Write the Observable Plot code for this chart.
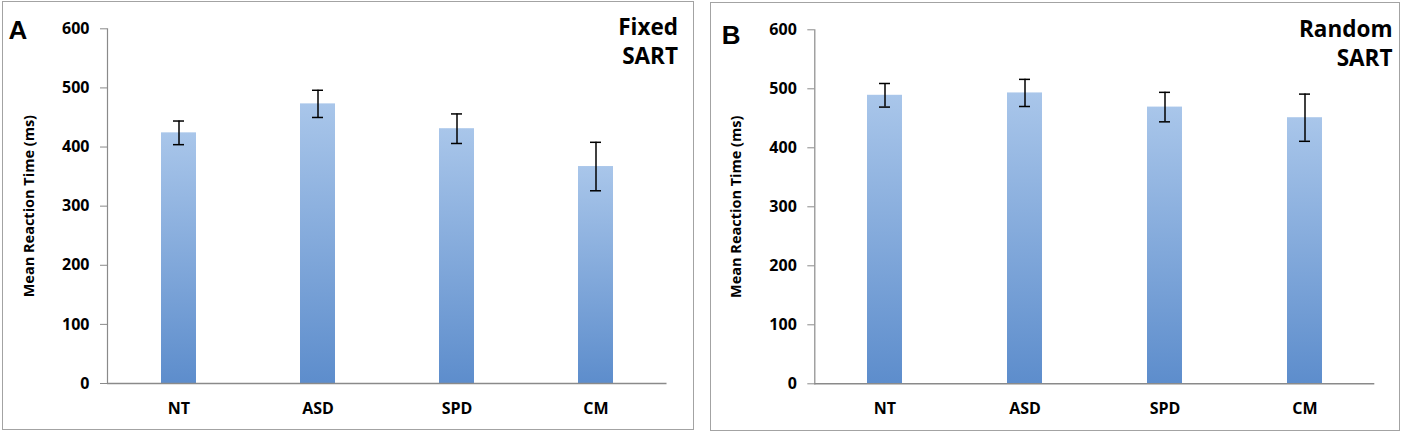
<!DOCTYPE html>
<html>
<head>
<meta charset="utf-8">
<script src="https://cdn.jsdelivr.net/npm/d3@7"></script>
<script src="https://cdn.jsdelivr.net/npm/@observablehq/plot@0.6"></script>
<style>
  html, body { margin: 0; padding: 0; background: #fff; }
  #wrap { position: relative; width: 1402px; height: 435px; overflow: hidden; }
  .panel { position: absolute; }
  .border { position: absolute; border: 1.5px solid #a3a3a3; box-sizing: border-box; }
  g[aria-label="y-axis tick"] path { stroke: #8a8a8a; }
</style>
</head>
<body>
<div id="wrap">
  <div class="border" style="left:2px;top:1px;width:692px;height:429px;"></div>
  <div class="border" style="left:710px;top:2px;width:690px;height:429px;"></div>
  <div class="panel" id="pA" style="left:0px;top:0px;"></div>
  <div class="panel" id="pB" style="left:707px;top:0px;"></div>
</div>
<script>
const categories = ["NT", "ASD", "SPD", "CM"];
const fixedMean = [424, 473, 431, 367];
const fixedErr = [20, 23, 25, 41];
const randomMean = [489, 493, 469, 451];
const randomErr = [20, 23, 25, 40];
const yTicks = [0, 100, 200, 300, 400, 500, 600];
const yLabel = "Mean Reaction Time (ms)";

const fontFam = "'Open Sans', sans-serif";

function panel({means, errs, letter, title, gradId, width, marginLeft, marginRight, marginTop, marginBottom, letterDx, letterDy, titleDx, titleDy}) {
  const data = categories.map((c, i) => ({cat: c, mean: means[i], lo: means[i] - errs[i], hi: means[i] + errs[i]}));
  const svg = Plot.plot({
    width, height: 435, marginLeft, marginRight, marginTop, marginBottom,
    style: {fontFamily: fontFam, background: "transparent", overflow: "visible", color: "#000"},
    x: {domain: categories, paddingInner: 0.75, paddingOuter: 0.375, axis: null},
    y: {domain: [0, 600], axis: null},
    marks: [
      Plot.axisY({ticks: yTicks, tickSize: 7, tickPadding: 11, fontSize: 16, fontWeight: "bold", label: null, tickFormat: d => String(d)}),
      Plot.frame({anchor: "left", stroke: "#8a8a8a", strokeWidth: 1.2}),
      Plot.barY(data, {x: "cat", y: "mean", fill: `url(#${gradId})`}),
      Plot.ruleY([0], {stroke: "#8a8a8a", strokeWidth: 1.5}),
      Plot.ruleX(data, {x: "cat", y1: "lo", y2: "hi", stroke: "#000", strokeWidth: 1.5}),
      Plot.tickY(data, {x: "cat", y: "lo", insetLeft: 12, insetRight: 12, stroke: "#000", strokeWidth: 1.5}),
      Plot.tickY(data, {x: "cat", y: "hi", insetLeft: 12, insetRight: 12, stroke: "#000", strokeWidth: 1.5}),
      Plot.axisX({tickSize: 0, tickPadding: 19, fontSize: 16, fontWeight: "bold", label: null}),
      Plot.text([yLabel], {text: d => d, frameAnchor: "left", textAnchor: "middle", lineAnchor: "middle", dx: -78, rotate: -90, fontSize: 14.5, fontWeight: "bold", fill: "#000"}),
      Plot.text([letter], {text: d => d, frameAnchor: "top-left", textAnchor: "start", lineAnchor: "top", dx: letterDx, dy: letterDy, fontSize: 26, fontWeight: "bold", fontFamily: "'Liberation Sans', Arial, sans-serif", fill: "#000"}),
      Plot.text([title], {text: d => d, frameAnchor: "top-right", textAnchor: "end", lineAnchor: "top", lineHeight: 1.3, dx: titleDx, dy: titleDy, fontSize: 22.5, fontWeight: "bold", fill: "#000"})
    ]
  });
  d3.select(svg).insert("defs", ":first-child").html(
    `<linearGradient id="${gradId}" x1="0" y1="0" x2="0" y2="1">
       <stop offset="0" stop-color="#a9c6ea"/>
       <stop offset="1" stop-color="#5d8dcc"/>
     </linearGradient>`);
  return svg;
}

document.getElementById("pA").appendChild(panel({
  means: fixedMean, errs: fixedErr, letter: "A", title: "Fixed\nSART", gradId: "gradA",
  width: 700, marginLeft: 107, marginRight: 33.5, marginTop: 28.3, marginBottom: 52,
  letterDx: -99, letterDy: -8, titleDx: 11, titleDy: -15
}));
document.getElementById("pB").appendChild(panel({
  means: randomMean, errs: randomErr, letter: "B", title: "Random\nSART", gradId: "gradB",
  width: 695, marginLeft: 107.3, marginRight: 27.7, marginTop: 29.3, marginBottom: 51.7,
  letterDx: -93, letterDy: -4, titleDx: 17.7, titleDy: -14
}));
</script>
</body>
</html>
